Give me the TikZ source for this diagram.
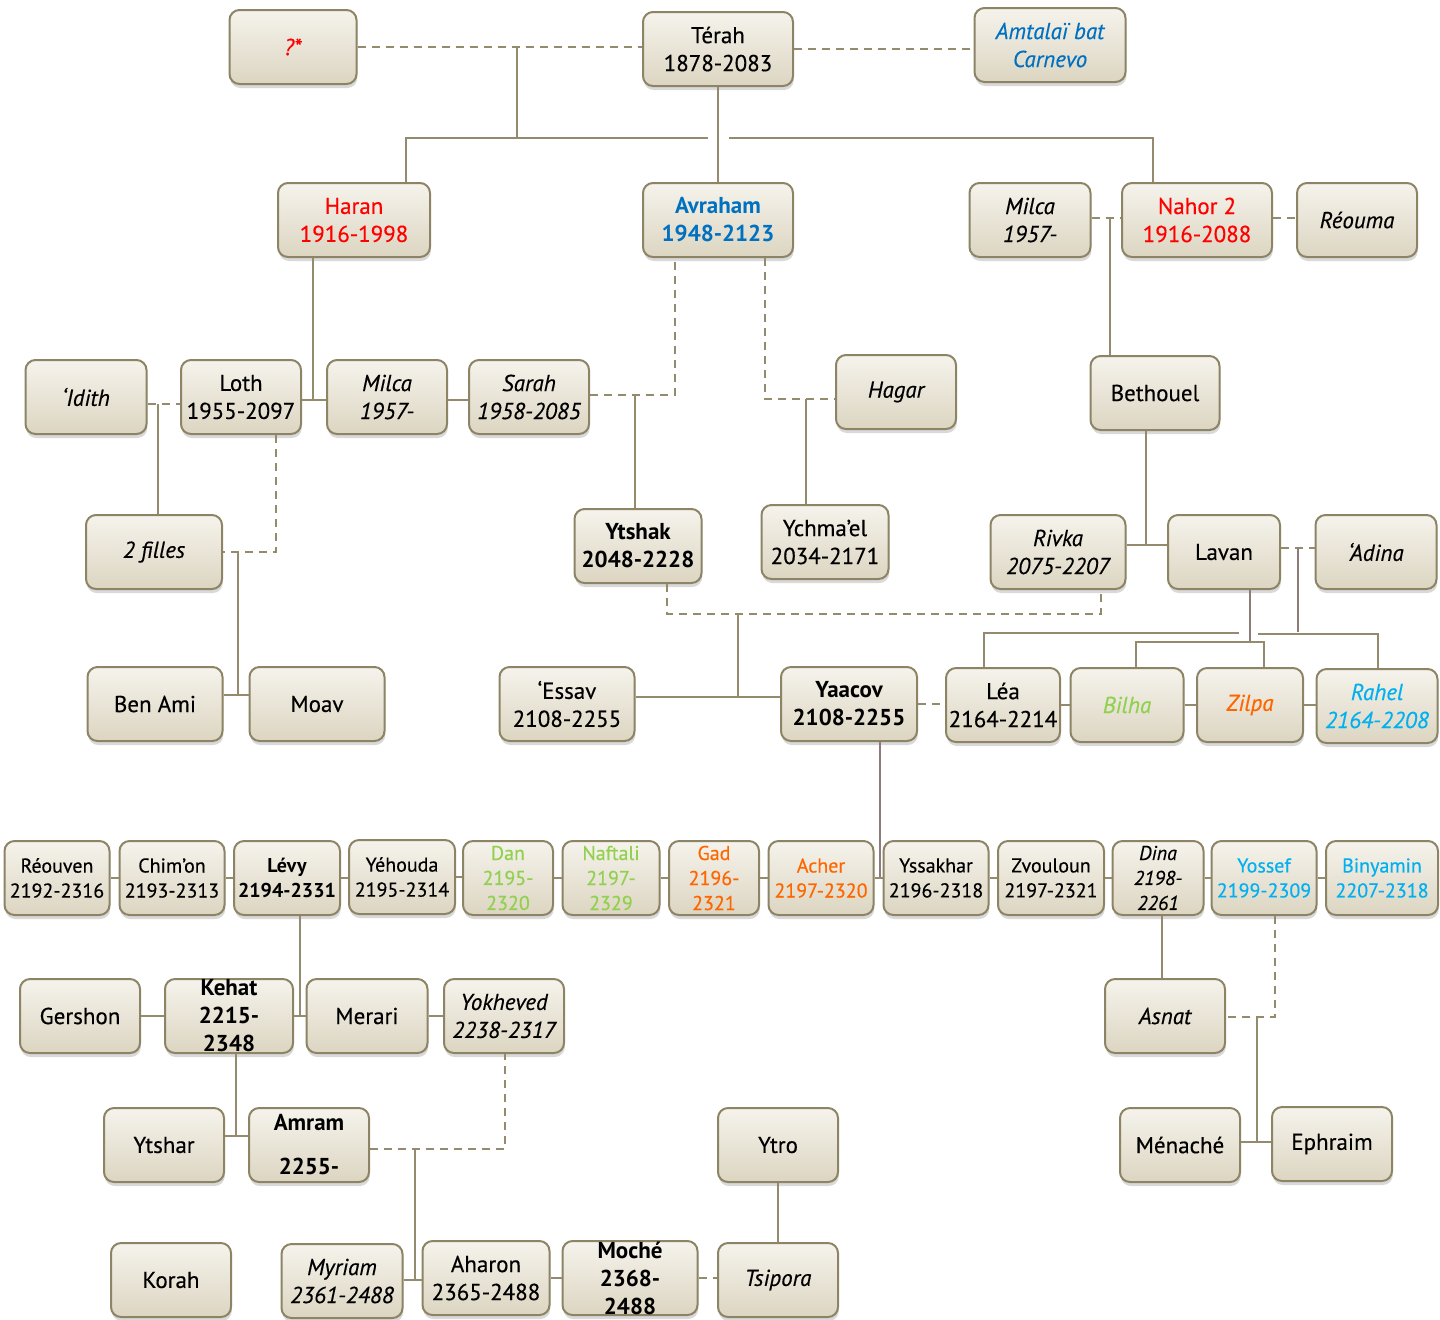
\documentclass[tikz,border=0pt]{standalone}
\usepackage{fontspec}
\setmainfont{PT Sans}[UprightFeatures={FakeBold=0.35}, ItalicFeatures={FakeBold=0.35}]
\usetikzlibrary{calc,shadows}
\definecolor{lien}{HTML}{948B6F}
\definecolor{lienB}{HTML}{8C7B78}
\definecolor{bord}{HTML}{8C8465}
\definecolor{haut}{HTML}{F5F3EC}
\definecolor{bas}{HTML}{DCD5C1}
\definecolor{rouge}{HTML}{FF0000}
\definecolor{bleu}{HTML}{0070C0}
\definecolor{vert}{HTML}{92D050}
\definecolor{orangeC}{HTML}{FF6600}
\definecolor{ciel}{HTML}{00B0F0}
\newcommand{\taille}{\fontsize{11.5}{14}\selectfont}
\newcommand{\petite}{\fontsize{10}{12.5}\selectfont}
\tikzset{
  perso/.style={draw=bord, line width=1pt, rounded corners=5pt,
    top color=haut, bottom color=bas, minimum width=#1*0.5pt,
    minimum height=37pt, inner sep=1pt, align=center, font=\taille,
    drop shadow={shadow xshift=0.4pt, shadow yshift=-2pt, opacity=0.3}},
  perso/.default=120,
  ital/.style={font=\taille\itshape},
  gras/.style={font=\taille\bfseries},
  petit/.style={font=\petite},
  filiation/.style={draw=lien, line width=0.9pt},
  filB/.style={draw=lienB, line width=0.9pt},
  union/.style={draw=lien, line width=0.9pt, dash pattern=on 4pt off 3pt},
}
\begin{document}
\begin{tikzpicture}[x=0.5pt,y=-0.5pt]
\useasboundingbox (0,0) rectangle (1440,1319);
% generations
\node[perso=127, ital, text=rouge] (inconnue) at (293,47) {?*};
\node[perso=150] (terah) at (718,49) {Térah\\1878-2083};
\node[perso=151, ital, text=bleu] (amtalai) at (1050,45) {Amtalaï bat\\Carnevo};

\node[perso=152, text=rouge] (haran) at (354,220) {Haran\\1916-1998};
\node[perso=150, gras, text=bleu] (avraham) at (718,220) {Avraham\\1948-2123};
\node[perso=121, ital] (milcaA) at (1030,220) {Milca\\1957-};
\node[perso=150, text=rouge] (nahor) at (1197,220) {Nahor 2\\1916-2088};
\node[perso, ital] (reouma) at (1357,220) {Réouma};

\node[perso=121, ital] (idith) at (86,397) {‘Idith};
\node[perso] (loth) at (241,397) {Loth\\1955-2097};
\node[perso, ital] (milcaB) at (387,397) {Milca\\1957-};
\node[perso, ital] (sarah) at (529,397) {Sarah\\1958-2085};
\node[perso, ital] (hagar) at (896,392) {Hagar};
\node[perso=129] (bethouel) at (1155,393) {Bethouel};

\node[perso=136, ital] (filles) at (154,552) {2 filles};
\node[perso=127, gras] (ytshak) at (638,546) {Ytshak\\2048-2228};
\node[perso=127] (ychmael) at (825,542) {Ychma’el\\2034-2171};
\node[perso=135, ital] (rivka) at (1058,552) {Rivka\\2075-2207};
\node[perso=112] (lavan) at (1224,552) {Lavan};
\node[perso=121, ital] (adina) at (1376,552) {‘Adina};

\node[perso=135] (benami) at (155,704) {Ben Ami};
\node[perso=135] (moav) at (317,704) {Moav};
\node[perso=135] (essav) at (567,704) {‘Essav\\2108-2255};
\node[perso=136, gras] (yaacov) at (849,704) {Yaacov\\2108-2255};
\node[perso=114] (lea) at (1003,705) {Léa\\2164-2214};
\node[perso=113, ital, text=vert] (bilha) at (1127,705) {Bilha};
\node[perso=106, ital, text=orangeC] (zilpa) at (1250,705) {Zilpa};
\node[perso=121, ital, text=ciel] (rahel) at (1377,706) {Rahel\\2164-2208};

\node[perso=105, petit] (reouven) at (57,878) {Réouven\\2192-2316};
\node[perso=105, petit] (chimon) at (172,878) {Chim’on\\2193-2313};
\node[perso=106, font=\petite\bfseries] (levy) at (287,878) {Lévy\\2194-2331};
\node[perso=106, petit] (yehouda) at (402,877) {Yéhouda\\2195-2314};
\node[perso=90, label={[font=\petite, text=vert, align=center]center:Dan\\2195-\\2320}] (dan) at (508,878) {};
\node[perso=97, label={[font=\petite, text=vert, align=center]center:Naftali\\2197-\\2329}] (naftali) at (611,878) {};
\node[perso=90, label={[font=\petite, text=orangeC, align=center]center:Gad\\2196-\\2321}] (gad) at (714,878) {};
\node[perso=105, petit, text=orangeC] (acher) at (821,878) {Acher\\2197-2320};
\node[perso=105, petit] (yssakhar) at (936,878) {Yssakhar\\2196-2318};
\node[perso=106, petit] (zvouloun) at (1051,878) {Zvouloun\\2197-2321};
\node[perso=91, label={[font=\petite\itshape, align=center]center:Dina\\2198-\\2261}] (dina) at (1158,878) {};
\node[perso=105, petit, text=ciel] (yossef) at (1264,878) {Yossef\\2199-2309};
\node[perso=112, petit, text=ciel] (binyamin) at (1382,878) {Binyamin\\2207-2318};

\node[perso] (gershon) at (80,1016) {Gershon};
\node[perso=128, label={[font=\taille\bfseries, align=center]center:Kehat\\2215-\\2348}] (kehat) at (229,1016) {};
\node[perso=121] (merari) at (367,1016) {Merari};
\node[perso, ital] (yokheved) at (504,1016) {Yokheved\\2238-2317};
\node[perso, ital] (asnat) at (1165,1016) {Asnat};

\node[perso] (ytshar) at (164,1145) {Ytshar};
\node[perso, gras] (amram) at (309,1145) {Amram\\[8pt]2255-};
\node[perso] (ytro) at (778,1145) {Ytro};
\node[perso] (menache) at (1180,1145) {Ménaché};
\node[perso] (ephraim) at (1332,1144) {Ephraim};

\node[perso] (korah) at (171,1280) {Korah};
\node[perso=121, ital] (myriam) at (342,1281) {Myriam\\2361-2488};
\node[perso=127] (aharon) at (486,1278) {Aharon\\2365-2488};
\node[perso=135, label={[font=\taille\bfseries, align=center]center:Moché\\2368-\\2488}] (moche) at (630,1278) {};
\node[perso, ital] (tsipora) at (778,1280) {Tsipora};

% Térah
\coordinate (tq) at (517,48);
\coordinate (g1) at (406,138); \coordinate (g2) at (708,138);
\coordinate (g3) at (729,138); \coordinate (g4) at (1153,138);
\draw[union] (inconnue.east) -- (inconnue.east -| terah.west);
\draw[union] (terah.east) -- (terah.east -| amtalai.west);
\draw[filiation] (tq) -- (tq |- g1);
\draw[filiation] (haran.north -| g1) -- (g1) -- (g2);
\draw[filiation] (g3) -- (g4) -- (nahor.north -| g4);
\draw[filiation] (terah.south) -- (avraham.north);

% Haran, Avraham, Nahor
\coordinate (lm) at (313,400);
\draw[filiation] (haran.south -| lm) -- (lm);
\draw[filiation] (loth.east |- lm) -- (milcaB.west |- lm);
\draw[filiation] (milcaB.east |- lm) -- (sarah.west |- lm);
\coordinate (sa) at (675,395); \coordinate (si) at (635,395);
\draw[union] (sarah.east |- sa) -- (sa) -- (avraham.south -| sa);
\draw[filiation] (si) -- (ytshak.north -| si);
\coordinate (ah) at (765,399); \coordinate (hy) at (806,399);
\draw[union] (avraham.south -| ah) -- (ah) -- (hagar.west |- ah);
\draw[filiation] (hy) -- (ychmael.north -| hy);
\coordinate (mn) at (1110,218);
\draw[union] (milcaA.east |- mn) -- (nahor.west |- mn);
\draw[filiation] (mn) -- (bethouel.north -| mn);
\draw[union] (nahor.east |- mn) -- (reouma.west |- mn);
\coordinate (rl) at (1146,545);
\draw[filiation] (bethouel.south -| rl) -- (rl);
\draw[filiation] (rivka.east |- rl) -- (lavan.west |- rl);

% Loth
\coordinate (il) at (158,404);
\draw[union] (idith.east |- il) -- (loth.west |- il);
\draw[filiation] (il) -- (filles.north -| il);
\coordinate (lf) at (276,552); \coordinate (fb) at (238,552); \coordinate (bm) at (238,695);
\draw[union] (loth.south -| lf) -- (lf) -- (filles.east |- lf);
\draw[filiation] (fb) -- (bm);
\draw[filiation] (benami.east |- bm) -- (moav.west |- bm);

% Ytshak, Lavan
\coordinate (yr1) at (667,614); \coordinate (yr2) at (1101,614);
\coordinate (ir) at (738,614); \coordinate (ey) at (738,697);
\draw[union] (ytshak.south -| yr1) -- (yr1) -- (yr2) -- (rivka.south -| yr2);
\draw[filiation] (ir) -- (ey);
\draw[filiation] (essav.east |- ey) -- (yaacov.west |- ey);
\coordinate (la) at (1298,548); \coordinate (ad) at (1298,632);
\draw[union] (lavan.east |- la) -- (adina.west |- la);
\draw[filB] (la) -- (ad);
\coordinate (lv) at (1250,642);
\draw[filB] (lavan.south -| lv) -- (lv);
\coordinate (le1) at (984,633); \coordinate (le2) at (1239,633);
\draw[filiation] (le2) -- (le1) -- (lea.north -| le1);
\coordinate (bz1) at (1136,642); \coordinate (bz2) at (1264,642);
\draw[filiation] (bilha.north -| bz1) -- (bz1) -- (bz2) -- (zilpa.north -| bz2);
\coordinate (ra1) at (1258,634); \coordinate (ra2) at (1378,634);
\draw[filiation] (ra1) -- (ra2) -- (rahel.north -| ra2);
\draw[union] (yaacov.east) -- (yaacov.east -| lea.west);
\foreach \a/\b in {lea/bilha, bilha/zilpa, zilpa/rahel}
  \draw[filiation] (\a.east) -- (\a.east -| \b.west);

% Yaacov
\coordinate (jr) at (880,878);
\draw[filB] (yaacov.south -| jr) -- (jr);
\foreach \a/\b in {reouven/chimon, chimon/levy, levy/yehouda, yehouda/dan,
  dan/naftali, naftali/gad, gad/acher, acher/yssakhar, yssakhar/zvouloun,
  zvouloun/dina, dina/yossef, yossef/binyamin}
  \draw[filiation] (\a.east) -- (\a.east -| \b.west);

% Lévy
\coordinate (lk) at (300,1016);
\draw[filiation] (levy.south -| lk) -- (lk);
\foreach \a/\b in {gershon/kehat, kehat/merari, merari/yokheved}
  \draw[filiation] (\a.east |- lk) -- (\b.west |- lk);
\coordinate (ka) at (236,1136);
\draw[filiation] (kehat.south -| ka) -- (ka);
\draw[filiation] (ytshar.east |- ka) -- (amram.west |- ka);
\coordinate (ay) at (505,1149); \coordinate (am) at (415,1149); \coordinate (ma) at (415,1280);
\draw[union] (amram.east |- ay) -- (ay) -- (yokheved.south -| ay);
\draw[filiation] (am) -- (ma);
\draw[filiation] (myriam.east |- ma) -- (aharon.west |- ma);
\draw[filiation] (aharon.east) -- (aharon.east -| moche.west);
\draw[union] (moche.east) -- (moche.east -| tsipora.west);
\draw[filiation] (ytro.south) -- (tsipora.north);

% Yossef
\coordinate (da) at (1162,950);
\draw[filiation] (dina.south -| da) -- (asnat.north -| da);
\coordinate (ya) at (1275,1017); \coordinate (ym) at (1257,1017); \coordinate (me) at (1257,1142);
\draw[union] (yossef.south -| ya) -- (ya) -- (asnat.east |- ya);
\draw[filiation] (ym) -- (me);
\draw[filiation] (menache.east |- me) -- (ephraim.west |- me);
\end{tikzpicture}
\end{document}
